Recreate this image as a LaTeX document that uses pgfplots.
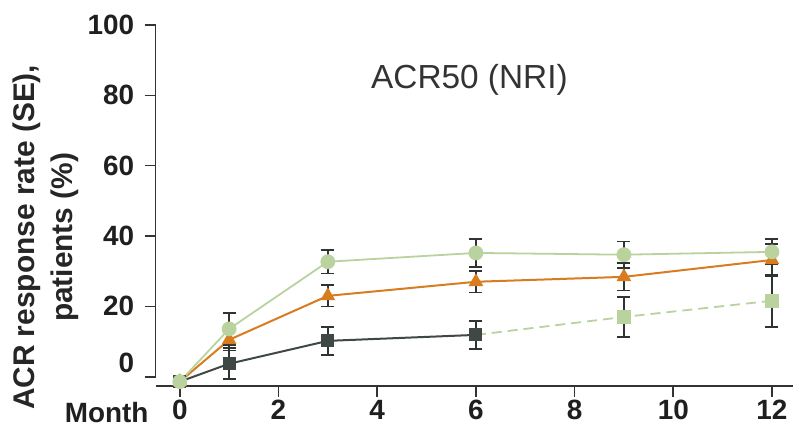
\documentclass[border=0pt]{standalone}
\usepackage{fontspec}
\setmainfont{Liberation Sans}
\usepackage{pgfplots}
\pgfplotsset{compat=1.18}
\definecolor{cgreen}{HTML}{B9D29E}
\definecolor{corange}{HTML}{D97B1F}
\definecolor{cgray}{HTML}{3F4845}
\definecolor{caxis}{HTML}{333333}
\definecolor{cbar}{HTML}{2E3432}
\begin{document}
\begin{tikzpicture}
\begin{axis}[
  scale only axis, width=638bp, height=361bp,
  xmin=-0.49, xmax=12.43, ymin=-2.56, ymax=100,
  axis x line=bottom, axis y line=left,
  x axis line style={-, line width=1.6bp, draw=caxis},
  y axis line style={draw=none},
  xtick={0,2,...,12}, ytick={20,40,...,100},
  tick align=outside, major tick length=11bp,
  tick style={line width=1.6bp, draw=caxis},
  ticklabel style={font=\bfseries\fontsize{28}{30}\selectfont, text=black!88},
  yticklabel style={xshift=-7bp},
  extra y ticks={0},
  extra y tick style={yticklabel style={yshift=14bp}},
  /pgf/number format/assume math mode=true,
  clip=false,
  error bars/error bar style={line width=1.6bp, draw=cbar, solid},
  error bars/error mark options={rotate=90, mark size=6.5bp, line width=1.6bp, draw=cbar, solid},
]
% y axis line (0 to 100 only)
\draw[line width=1.6bp, caxis] ({rel axis cs:0,0} |- {axis cs:0,0}) -- (rel axis cs:0,1);

% dark gray series
\addplot[cgray, line width=2bp, mark=square*, mark size=5.5bp, mark options={solid, fill=cgray},
  error bars/.cd, y dir=both, y explicit]
coordinates {(0,-1.4) +- (0,0) (1,3.7) +- (0,4.4) (3,10.2) +- (0,4) (6,11.9) +- (0,4)};

% dashed light green continuation
\addplot[cgreen, line width=1.8bp, dash pattern=on 10bp off 6bp, mark=square*, mark size=6bp,
  mark options={solid, fill=cgreen}, mark indices={2,3},
  error bars/.cd, y dir=both, y explicit]
coordinates {(6,11.9) +- (0,0) (9,17.0) +- (0,5.7) (12,21.6) +- (0,7.4)};

% orange series
\addplot[corange, line width=2bp, mark=triangle*, mark size=6.5bp, mark options={solid, fill=corange},
  error bars/.cd, y dir=both, y explicit]
coordinates {(0,-1.4) +- (0,0) (1,10.5) +- (0,3) (3,23.0) +- (0,3) (6,27.0) +- (0,3) (9,28.4) +- (0,3.9) (12,33.2) +- (0,4.6)};

% light green series
\addplot[cgreen, line width=1.8bp, mark=*, mark size=6.5bp, mark options={solid, fill=cgreen},
  error bars/.cd, y dir=both, y explicit]
coordinates {(0,-1.4) +- (0,0) (1,13.6) +- (0,4.6) (3,32.7) +- (0,3.3) (6,35.2) +- (0,4) (9,34.7) +- (0,3.7) (12,35.5) +- (0,3.6)};

% title
\node[font=\fontsize{33.5}{38}\selectfont, text=caxis] at (axis cs:5.87,84.4) {ACR50 (NRI)};

% y label
\node[rotate=90, align=center, font=\bfseries\fontsize{30}{38}\selectfont, text=black!85]
  at ([xshift=-110bp, yshift=-32bp]rel axis cs:0,0.5) {ACR response rate (SE),\\patients (\%)};

% Month label
\node[anchor=base east, font=\bfseries\fontsize{28}{30}\selectfont, text=black!88]
  at ([xshift=-3.7bp, yshift=-37bp]rel axis cs:0,0) {Month};

\path[use as bounding box] ([xshift=-155.7bp, yshift=-49bp]rel axis cs:0,0) rectangle ([yshift=25bp]rel axis cs:1,1);
\end{axis}
\end{tikzpicture}
\end{document}
